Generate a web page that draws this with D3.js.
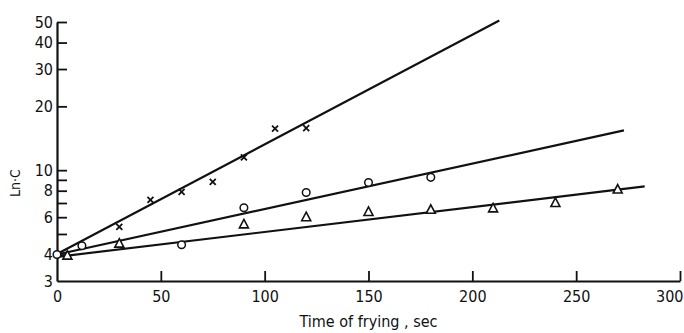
<!DOCTYPE html>
<html>
<head>
<meta charset="utf-8">
<script src="https://cdn.jsdelivr.net/npm/d3@7"></script>
<style>
  body { margin: 0; background: #fff; }
  text { font-family: "DejaVu Sans Condensed", "DejaVu Sans", sans-serif; font-stretch: condensed; fill: #111; }
</style>
</head>
<body>
<script>
// data (time in sec, concentration)
const crossT = [0, 30, 45, 60, 75, 90, 105, 120];
const crossC = [4.0, 5.4, 7.25, 7.9, 8.8, 11.5, 15.7, 15.8];

const circleT = [0, 12, 60, 90, 120, 150, 180];
const circleC = [4.0, 4.4, 4.45, 6.65, 7.85, 8.75, 9.25];

const triT = [5, 30, 90, 120, 150, 180, 210, 240, 270];
const triC = [3.95, 4.5, 5.55, 6.0, 6.35, 6.5, 6.6, 7.0, 8.1];

// fitted straight lines (end points)
const fitCrossT = [0, 213], fitCrossC = [4.02, 50.8];
const fitCircleT = [0, 273], fitCircleC = [4.0, 15.4];
const fitTriT = [0, 283], fitTriC = [3.9, 8.38];

const xTicks = [0, 50, 100, 150, 200, 250, 300];
const yTicks = [3, 4, 5, 6, 7, 8, 9, 10, 20, 30, 40, 50];
const yLabels = [3, 4, 6, 8, 10, 20, 30, 40, 50];

const W = 684, H = 333;
const svg = d3.select("body").append("svg")
  .attr("width", W)
  .attr("height", H);

const x = d3.scaleLinear().domain([0, 300]).range([57, 680]);
const y = d3.scaleLog().domain([3, 50]).range([281, 22]);

// axes
const xAxis = d3.axisBottom(x)
  .tickValues(xTicks)
  .tickSizeInner(-10)
  .tickSizeOuter(0)
  .tickPadding(10)
  .tickFormat(d3.format("d"));

const yAxis = d3.axisLeft(y)
  .tickValues(yTicks)
  .tickSizeInner(-10)
  .tickSizeOuter(0)
  .tickPadding(4)
  .tickFormat(d => yLabels.includes(d) ? d : "");

const gx = svg.append("g")
  .attr("transform", "translate(0," + y(3) + ")")
  .call(xAxis);
const gy = svg.append("g")
  .attr("transform", "translate(" + x(0) + ",0)")
  .call(yAxis);

[gx, gy].forEach(g => {
  g.select(".domain").attr("stroke", "#111").attr("stroke-width", 2.2);
  g.selectAll(".tick line").attr("stroke", "#111").attr("stroke-width", 1.8);
  g.selectAll(".tick text")
    .attr("font-size", 16)
    .attr("font-family", null)
    .style("fill", "#111");
});
gx.selectAll(".tick").filter(d => d === 0).select("line").remove();
gy.selectAll(".tick").filter(d => d === 3).select("line").remove();
// last label sits against the right edge, as in the original
gx.selectAll(".tick").filter(d => d === 300).select("text")
  .attr("text-anchor", "end")
  .attr("dx", 3);

// axis titles
svg.append("text")
  .attr("x", (x(0) + x(300)) / 2)
  .attr("y", 327)
  .attr("text-anchor", "middle")
  .attr("font-size", 16)
  .text("Time of frying , sec");

svg.append("text")
  .attr("transform", "translate(20,183) rotate(-90)")
  .attr("text-anchor", "middle")
  .attr("font-size", 14)
  .text("Ln·C");

// fitted lines
const line = d3.line().x(d => x(d[0])).y(d => y(d[1]));
[[fitCrossT, fitCrossC], [fitCircleT, fitCircleC], [fitTriT, fitTriC]].forEach(([ts, cs]) => {
  svg.append("path")
    .datum(ts.map((t, i) => [t, cs[i]]))
    .attr("d", line)
    .attr("fill", "none")
    .attr("stroke", "#111")
    .attr("stroke-width", 2.2);
});

// markers
svg.selectAll(".cross")
  .data(crossT.map((t, i) => [t, crossC[i]]))
  .enter()
  .append("path")
  .attr("class", "cross")
  .attr("transform", d => "translate(" + x(d[0]) + "," + y(d[1]) + ")")
  .attr("d", "M-3,-3L3,3M3,-3L-3,3")
  .attr("stroke", "#111")
  .attr("stroke-width", 1.8);

svg.selectAll(".circ")
  .data(circleT.map((t, i) => [t, circleC[i]]))
  .enter()
  .append("circle")
  .attr("class", "circ")
  .attr("cx", d => x(d[0]))
  .attr("cy", d => y(d[1]))
  .attr("r", 3.8)
  .attr("fill", "#fff")
  .attr("stroke", "#111")
  .attr("stroke-width", 1.5);

svg.selectAll(".tri")
  .data(triT.map((t, i) => [t, triC[i]]))
  .enter()
  .append("path")
  .attr("class", "tri")
  .attr("transform", d => "translate(" + x(d[0]) + "," + y(d[1]) + ")")
  .attr("d", "M0,-5L4.5,3.5L-4.5,3.5Z")
  .attr("fill", "#fff")
  .attr("stroke", "#111")
  .attr("stroke-width", 1.6);
</script>
</body>
</html>
